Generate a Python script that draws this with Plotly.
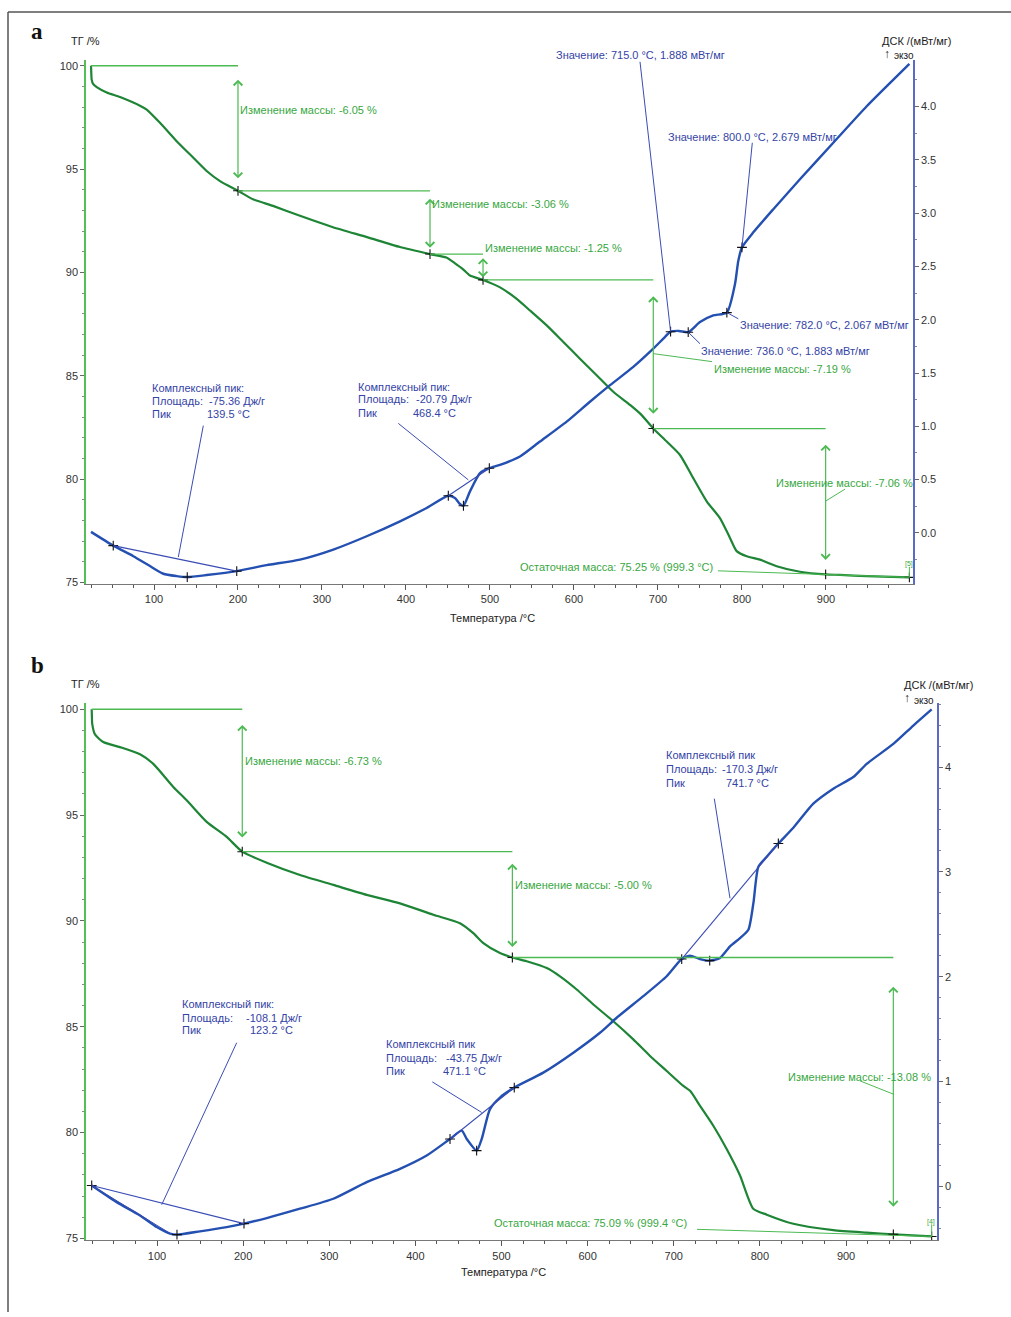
import plotly.graph_objects as go

W, H = 1011, 1317

# ---------------- data: panel a ----------------
a_tg_T = [25, 25.3, 25.8, 27.5, 31.8, 43.7, 59.5, 83.3, 91.3, 107.1, 127, 146.8, 162.7, 178.6, 200,
          217.9, 241.7, 273.8, 313.1, 353.6, 392.9, 428.6, 448, 458, 468, 476.2, 491.7, 512, 531.8,
          547.6, 567.5, 587.3, 607.1, 627, 646.8, 667.1, 680.6, 694.4, 710.4, 726.2, 742, 758, 773.8,
          785.7, 793.7, 805.6, 821.4, 841.3, 869, 899.6, 916.7, 948.5, 999.3]
a_tg = [100.0, 99.7, 99.33, 99.12, 98.97, 98.71, 98.49, 98.07, 97.88, 97.24, 96.35, 95.55, 94.91, 94.42, 93.95,
        93.54, 93.22, 92.74, 92.19, 91.71, 91.23, 90.89, 90.72, 90.45, 90.15, 89.85, 89.64, 89.28, 88.72,
        88.16, 87.44, 86.64, 85.83, 85.03, 84.23, 83.58, 83.1, 82.45, 81.82, 81.17, 80.05, 78.93, 78.12,
        77.16, 76.52, 76.27, 76.11, 75.79, 75.52, 75.39, 75.37, 75.31, 75.25]
a_dsc_T = [25, 51.5, 75.4, 95.2, 111.1, 127, 139.6, 162.7, 198.5, 234.2, 273.8, 313.5, 353.2, 392.9, 424.6,
           450.4, 458.3, 464.3, 468.4, 476.2, 488.1, 499.2, 511.9, 535.7, 559.5, 591.3, 619, 642.9, 670.6,
           694.4, 706.3, 715, 725, 736, 750, 765.8, 782, 791.7, 795.6, 800, 813.5, 837.3, 869, 908.7,
           948.5, 968.2, 999.3]
a_dsc = [0.01, -0.119, -0.218, -0.311, -0.383, -0.405, -0.414, -0.395, -0.358, -0.302, -0.25, -0.156, -0.031,
         0.109, 0.234, 0.349, 0.327, 0.271, 0.255, 0.39, 0.561, 0.607, 0.638, 0.717, 0.857, 1.044, 1.231,
         1.386, 1.558, 1.729, 1.822, 1.888, 1.895, 1.883, 1.978, 2.04, 2.067, 2.336, 2.551, 2.679, 2.82,
         3.037, 3.318, 3.661, 4.003, 4.159, 4.40]
a_step_T = [200, 428.6, 491.7, 694.4, 899.6]
a_step_mass = [93.95, 90.89, 89.64, 82.45, 75.39]
a_step_change = ["-6.05", "-3.06", "-1.25", "-7.19", "-7.06"]
a_resid = ["75.25", "999.3"]
a_resid_T, a_resid_mass = 999.3, 75.25
a_peak_T = [51.5, 139.6, 198.5, 450.4, 468.4, 499.2]
a_peak_dsc = [-0.119, -0.414, -0.358, 0.349, 0.255, 0.607]
a_peak_area = ["-75.36", "-20.79"]
a_peak_pk = ["139.5", "468.4"]
a_val_T = [715.0, 736.0, 782.0, 800.0]
a_val_dsc = [1.888, 1.883, 2.067, 2.679]

# ---------------- data: panel b ----------------
b_tg_T = [24.2, 24.4, 24.8, 28, 37.6, 57, 80.3, 95.7, 118.9, 134.5, 157.7, 180.9, 199, 227.4, 266, 304.7,
          343.5, 382.1, 420.8, 451.8, 467.2, 478.9, 498.2, 512.6, 529.2, 552.5, 567.9, 587.3, 606.6, 629.8,
          653, 672.4, 691.8, 711.1, 718.9, 730.5, 745.9, 761.4, 776.9, 792.3, 807.9, 838.8, 885.2, 924,
          954.9, 999.4]
b_tg = [100.0, 99.7, 99.31, 98.81, 98.45, 98.21, 97.87, 97.42, 96.33, 95.7, 94.68, 93.97, 93.27, 92.75, 92.17,
        91.7, 91.23, 90.83, 90.29, 89.89, 89.42, 88.95, 88.48, 88.27, 88.09, 87.77, 87.38, 86.76, 86.05, 85.26,
        84.4, 83.62, 82.91, 82.2, 81.97, 81.26, 80.32, 79.22, 77.97, 76.4, 76.12, 75.69, 75.39, 75.27,
        75.19, 75.09]
b_dsc_T = [24.2, 53.2, 80.3, 99.7, 115.1, 123.2, 149.9, 180.9, 201, 227.4, 266, 304.7, 343.5, 382.1, 413.1,
           440.2, 453.8, 459.6, 471.1, 477, 486.6, 498.2, 514.8, 548.5, 583.4, 614.3, 633.7, 664.6, 691.8,
           709.2, 718.8, 730.5, 741.7, 753.7, 765.3, 776.9, 786.6, 792.4, 798.2, 807.9, 821.4, 838.8, 862,
           885.2, 908.4, 924, 954.9, 978.1, 999.4]
b_dsc = [0.01, -0.149, -0.276, -0.387, -0.449, -0.459, -0.428, -0.387, -0.354, -0.301, -0.212, -0.117, 0.041,
         0.168, 0.295, 0.453, 0.532, 0.453, 0.342, 0.453, 0.738, 0.848, 0.943, 1.086, 1.276, 1.466, 1.609,
         1.815, 2.005, 2.169, 2.201, 2.169, 2.154, 2.179, 2.29, 2.369, 2.448, 2.701, 3.05, 3.145, 3.271,
         3.421, 3.651, 3.794, 3.905, 4.031, 4.221, 4.396, 4.55]
b_step_T = [199, 512.6, 954.9]
b_step_mass = [93.27, 88.27, 75.19]
b_step_change = ["-6.73", "-5.00", "-13.08"]
b_resid = ["75.09", "999.4"]
b_resid_T, b_resid_mass = 999.4, 75.09
b_peak_T = [24.2, 123.2, 201, 440.2, 471.1, 514.8, 709.2, 741.7, 821.4]
b_peak_dsc = [0.01, -0.459, -0.354, 0.453, 0.342, 0.943, 2.169, 2.154, 3.271]
b_peak_area = ["-108.1", "-43.75", "-170.3"]
b_peak_pk = ["123.2", "471.1", "741.7"]

x_ticks = [100, 200, 300, 400, 500, 600, 700, 800, 900]
x_minor = [25 * i for i in range(1, 40)]

# ---------------- styles ----------------
TG_COL = "#1d8535"
ANN_G = "#4cba52"
TXT_G = "#38a742"
DSC_COL = "#2450b2"
ANN_B = "#3a4cb4"
TXT_B = "#3443a6"
LAX_G = "#55be55"
RAX_B = "#5a6ac6"
FONT = "Liberation Sans"

# pixel geometry of the two panels
A_X = (86, 913); A_Y = (586, 60)
B_X = (86, 937); B_Y = (1245, 706)
A_TR = [19.05, 1003.6]; A_GR = [74.94, 100.29]; A_DR = [-0.477, 4.439]
B_TR = [17.57, 1005.6]; B_GR = [74.91, 100.28]; B_DR = [-0.513, 4.608]


def mk(p0, p1, r):
    return lambda p: r[0] + (p - p0) * (r[1] - r[0]) / (p1 - p0)


aT, aG, aD = mk(*A_X, A_TR), mk(*A_Y, A_GR), mk(*A_Y, A_DR)
bT, bG, bD = mk(*B_X, B_TR), mk(*B_Y, B_GR), mk(*B_Y, B_DR)


def px(x):
    return x / W


def py(y):
    return 1 - y / H


fig = go.Figure()
SM = 0.6
fig.add_trace(go.Scatter(x=a_tg_T, y=a_tg, mode="lines", line=dict(color=TG_COL, width=2.2, shape="spline", smoothing=SM),
                         xaxis="x", yaxis="y", showlegend=False, hoverinfo="skip"))
fig.add_trace(go.Scatter(x=a_dsc_T, y=a_dsc, mode="lines", line=dict(color=DSC_COL, width=2.4, shape="spline", smoothing=SM),
                         xaxis="x", yaxis="y2", showlegend=False, hoverinfo="skip"))
fig.add_trace(go.Scatter(x=b_tg_T, y=b_tg, mode="lines", line=dict(color=TG_COL, width=2.2, shape="spline", smoothing=SM),
                         xaxis="x2", yaxis="y3", showlegend=False, hoverinfo="skip"))
fig.add_trace(go.Scatter(x=b_dsc_T, y=b_dsc, mode="lines", line=dict(color=DSC_COL, width=2.4, shape="spline", smoothing=SM),
                         xaxis="x2", yaxis="y4", showlegend=False, hoverinfo="skip"))

mk_style = dict(symbol="cross-thin", size=7, line=dict(color="#111", width=1.1))
fig.add_trace(go.Scatter(x=a_step_T + [a_resid_T], y=a_step_mass + [a_resid_mass], mode="markers",
                         marker=mk_style, xaxis="x", yaxis="y", showlegend=False, hoverinfo="skip"))
fig.add_trace(go.Scatter(x=a_peak_T + a_val_T, y=a_peak_dsc + a_val_dsc, mode="markers",
                         marker=mk_style, xaxis="x", yaxis="y2", showlegend=False, hoverinfo="skip"))
fig.add_trace(go.Scatter(x=b_step_T + [b_resid_T], y=b_step_mass + [b_resid_mass], mode="markers",
                         marker=mk_style, xaxis="x2", yaxis="y3", showlegend=False, hoverinfo="skip"))
fig.add_trace(go.Scatter(x=b_peak_T, y=b_peak_dsc, mode="markers",
                         marker=mk_style, xaxis="x2", yaxis="y4", showlegend=False, hoverinfo="skip"))

shapes = []
annotations = []


def line(x0, y0, x1, y1, xref, yref, color, width=1.0):
    shapes.append(dict(type="line", x0=x0, y0=y0, x1=x1, y1=y1, xref=xref, yref=yref,
                       line=dict(color=color, width=width), layer="above"))


def darrow(x, y0, y1, xref, yref):
    annotations.append(dict(x=x, y=y1, ax=x, ay=y0, xref=xref, yref=yref, axref=xref, ayref=yref,
                            text="", showarrow=True, arrowhead=4, startarrowhead=4, arrowside="end+start",
                            arrowsize=1.4, startarrowsize=1.4, arrowwidth=1.2, arrowcolor=ANN_G,
                            standoff=0, startstandoff=0))


def text(s, x, y, color, size=11, xanchor="left", family=FONT, yanchor="middle"):
    annotations.append(dict(text=s, x=px(x), y=py(y), xref="paper", yref="paper", showarrow=False,
                            xanchor=xanchor, yanchor=yanchor, font=dict(family=family, size=size, color=color)))


def steps(T0, stepT, stepM, xr, yr):
    prevT, prevM = T0, 100.0
    for t, m in zip(stepT, stepM):
        line(prevT, prevM, t, prevM, xr, yr, ANN_G, 1.3)
        gap = 0.1 * (prevM - m)
        darrow(t, prevM - gap, m + gap, xr, yr)
        prevT, prevM = t, m


# ---- panel a mass steps
steps(a_tg_T[0], a_step_T, a_step_mass, "x", "y")
a_lbl_pos = [(238, 110), (430, 205), (483, 249), (712, 370), (774, 485)]
for c, (x, y) in zip(a_step_change, a_lbl_pos):
    text(f"Изменение массы: {c} %", x, y, TXT_G)
line(a_step_T[3], aG(355), aT(712), aG(363), "x", "y", ANN_G, 1.0)
line(a_step_T[4], aG(503), aT(845), aG(491), "x", "y", ANN_G, 1.0)
text(f"Остаточная масса: {a_resid[0]} % ({a_resid[1]} °C)", 518, 569, TXT_G)
line(aT(718), aG(573), a_resid_T, a_resid_mass, "x", "y", ANN_G, 1.0)
line(a_resid_T, a_resid_mass, a_resid_T, aG(569), "x", "y", ANN_G, 1.0)
text("[5]", 909, 566, TXT_G, size=7, xanchor="center")

# ---- panel a DSC annotations
line(a_peak_T[0], a_peak_dsc[0], a_peak_T[2], a_peak_dsc[2], "x", "y2", ANN_B, 1.1)
line(aT(178.3), aD(559.3), aT(203.3), aD(427.3), "x", "y2", ANN_B, 1.0)
line(a_peak_T[3], a_peak_dsc[3], a_peak_T[5], a_peak_dsc[5], "x", "y2", ANN_B, 1.1)
line(aT(468.3), aD(481.7), aT(398.3), aD(425), "x", "y2", ANN_B, 1.0)
a_val_lbl = [(554, 55, 640, 62), (699, 352, 700, 345), (738, 326, 738.3, 320), (666, 138, 752.3, 143.3)]
for t, d, (tx, ty, lx, ly) in zip(a_val_T, a_val_dsc, a_val_lbl):
    text(f"Значение: {t:.1f} °C, {d:.3f} мВт/мг", tx, ty, TXT_B)
    line(t, d, aT(lx), aD(ly), "x", "y2", ANN_B, 1.0)

a_pk_pos = [(150, 207, 205, (389, 402.5, 416)), (356, 414, 411, (388, 401, 414.5))]
for (x0, xv1, xv2, ys), ar, pk in zip(a_pk_pos, a_peak_area, a_peak_pk):
    text("Комплексный пик:", x0, ys[0], TXT_B)
    text("Площадь:", x0, ys[1], TXT_B)
    text(f"{ar} Дж/г", xv1, ys[1], TXT_B)
    text("Пик", x0, ys[2], TXT_B)
    text(f"{pk} °C", xv2, ys[2], TXT_B)

# ---- panel b mass steps
steps(b_tg_T[0], b_step_T, b_step_mass, "x2", "y3")
b_lbl_pos = [(243, 764), (513, 888), (786, 1081)]
for c, (x, y) in zip(b_step_change, b_lbl_pos):
    text(f"Изменение массы: {c} %", x, y, TXT_G)
line(b_step_T[2], bG(1098.3), bT(860), bG(1085), "x2", "y3", ANN_G, 1.0)
text(f"Остаточная масса: {b_resid[0]} % ({b_resid[1]} °C)", 492, 1228, TXT_G)
line(bT(697), bG(1234), b_resid_T, b_resid_mass, "x2", "y3", ANN_G, 1.0)
line(b_resid_T, b_resid_mass, b_resid_T, bG(1229), "x2", "y3", ANN_G, 1.0)
text("[4]", 931, 1227, TXT_G, size=7, xanchor="center")

# ---- panel b DSC annotations
line(b_peak_T[0], b_peak_dsc[0], b_peak_T[2], b_peak_dsc[2], "x2", "y4", ANN_B, 1.1)
line(b_peak_T[0], b_peak_dsc[0], bT(170), bD(1238), "x2", "y4", ANN_B, 1.0)
line(bT(161.7), bD(1209.3), bT(236.7), bD(1046.7), "x2", "y4", ANN_B, 1.0)
line(b_peak_T[3], b_peak_dsc[3], b_peak_T[5], b_peak_dsc[5], "x2", "y4", ANN_B, 1.1)
line(bT(432.3), bD(1086), bT(481.7), bD(1116.7), "x2", "y4", ANN_B, 1.0)
line(b_peak_T[6], b_peak_dsc[6], b_peak_T[8], b_peak_dsc[8], "x2", "y4", ANN_B, 1.1)
line(bT(730), bD(901.7), bT(714.3), bD(801.7), "x2", "y4", ANN_B, 1.0)

b_pk_pos = [(180, 244, 248, (1008, 1021.5, 1034), "Комплексный пик:"),
            (384, 444, 441, (1048, 1062, 1075), "Комплексный пик"),
            (664, 720, 724, (758, 772, 786), "Комплексный пик")]
for (x0, xv1, xv2, ys, hdr), ar, pk in zip(b_pk_pos, b_peak_area, b_peak_pk):
    text(hdr, x0, ys[0], TXT_B)
    text("Площадь:", x0, ys[1], TXT_B)
    text(f"{ar} Дж/г", xv1, ys[1], TXT_B)
    text("Пик", x0, ys[2], TXT_B)
    text(f"{pk} °C", xv2, ys[2], TXT_B)

# ---- axis titles and panel letters
for (tgx, tgy, dx, dy, ex, ey, tx, ty) in [(85, 41, 916, 41, 887, 55, 492, 620),
                                          (85, 687, 938, 688, 907, 702, 503, 1277)]:
    text("ТГ /%", tgx, tgy, "#222", xanchor="center")
    text("ДСК /(мВт/мг)", dx, dy, "#222", xanchor="center")
    text("↑", ex, ey - 1, "#222", size=12, xanchor="center")
    text("экзо", ex + 5, ey + 1, "#222", size=10)
    text("Температура /°C", tx, ty, "#222", xanchor="center")
text("<b>a</b>", 37, 32, "#111", size=23, xanchor="center", family="Liberation Serif")
text("<b>b</b>", 37, 668, "#111", size=23, xanchor="center", family="Liberation Serif")

# page frame
shapes.append(dict(type="line", xref="paper", yref="paper", x0=px(8), y0=py(12), x1=1, y1=py(12),
                   line=dict(color="#555", width=1.5)))
shapes.append(dict(type="line", xref="paper", yref="paper", x0=px(8), y0=py(12), x1=px(8), y1=0,
                   line=dict(color="#555", width=1.5)))

tickfont = dict(family=FONT, size=11, color="#333")


def xaxis(dom, rng, anchor):
    return dict(domain=[px(dom[0]), px(dom[1])], range=rng, anchor=anchor, showgrid=False, zeroline=False,
                showline=True, linecolor="#777", linewidth=1.2, ticks="outside", ticklen=5, tickwidth=1,
                tickcolor="#555", tickmode="array", tickvals=x_ticks, tickfont=tickfont,
                minor=dict(tickmode="array", tickvals=x_minor, ticks="outside", ticklen=3, tickcolor="#555"))


def yleft(dom, rng, anchor):
    return dict(domain=[py(dom[0]), py(dom[1])], range=rng, anchor=anchor, side="left", showgrid=False,
                zeroline=False, showline=True, linecolor=LAX_G, linewidth=1.5, ticks="outside", ticklen=4,
                tickcolor="#666", tickmode="array", tickvals=[75, 80, 85, 90, 95, 100], tickfont=tickfont,
                minor=dict(tickmode="array", tickvals=list(range(75, 101)), ticks="outside", ticklen=2,
                           tickcolor="#888"))


def yright(rng, over, anchor, vals, fmt, minor):
    return dict(range=rng, overlaying=over, anchor=anchor, side="right", showgrid=False, zeroline=False,
                showline=True, linecolor=RAX_B, linewidth=1.5, ticks="outside", ticklen=4, tickcolor="#666",
                tickmode="array", tickvals=vals, ticktext=[fmt.format(v) for v in vals], tickfont=tickfont,
                minor=dict(tickmode="array", tickvals=minor, ticks="outside", ticklen=2, tickcolor="#888"))


a_rticks = [0.0, 0.5, 1.0, 1.5, 2.0, 2.5, 3.0, 3.5, 4.0]
a_rminor = [round(-0.25 + 0.25 * i, 2) for i in range(19)]
b_rticks = [0, 1, 2, 3, 4]
b_rminor = [round(-0.4 + 0.2 * i, 1) for i in range(26)]

fig.update_layout(
    width=W, height=H, margin=dict(l=0, r=0, t=0, b=0),
    paper_bgcolor="white", plot_bgcolor="rgba(0,0,0,0)",
    xaxis=xaxis(A_X, A_TR, "y"),
    yaxis=yleft(A_Y, A_GR, "x"),
    yaxis2=yright(A_DR, "y", "x", a_rticks, "{:.1f}", a_rminor),
    xaxis2=xaxis(B_X, B_TR, "y3"),
    yaxis3=yleft(B_Y, B_GR, "x2"),
    yaxis4=yright(B_DR, "y3", "x2", b_rticks, "{:d}", b_rminor),
    shapes=shapes, annotations=annotations,
)

fig.write_html("out.html", config={"displayModeBar": False},
               post_script="document.body.style.margin='0px';")
